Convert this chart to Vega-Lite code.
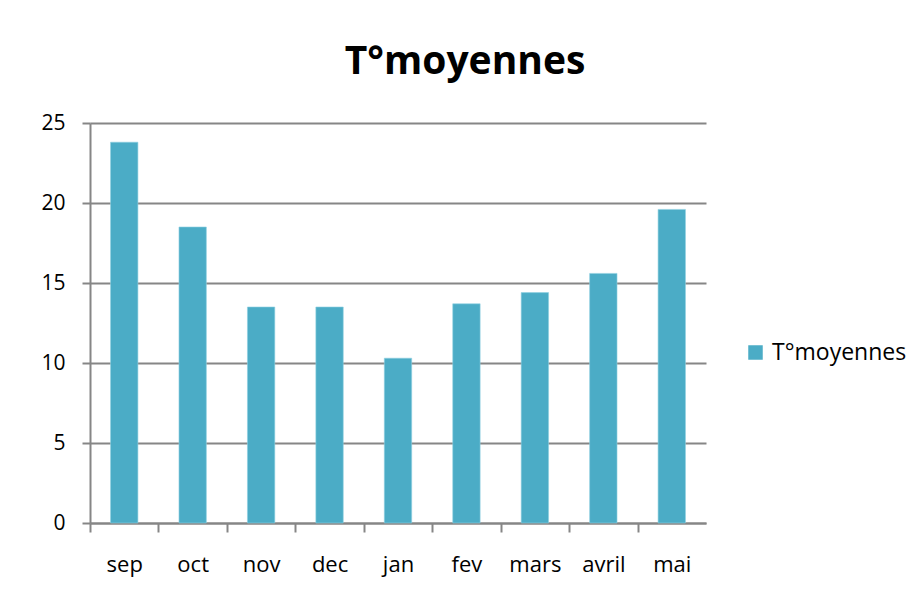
{
  "$schema": "https://vega.github.io/schema/vega-lite/v6.json",
  "autosize": "none",
  "width": 616,
  "height": 400,
  "padding": {"left": 90, "top": 123, "right": 211, "bottom": 82},
  "background": "white",
  "title": {
    "text": "T°moyennes",
    "font": "Open Sans",
    "fontSize": 39,
    "fontWeight": "bold",
    "color": "black",
    "anchor": "middle",
    "frame": "group",
    "dx": 67,
    "offset": 30
  },
  "data": {
    "values": [
      {"mois": "sep", "serie": "T°moyennes", "temp": 23.8},
      {"mois": "oct", "serie": "T°moyennes", "temp": 18.5},
      {"mois": "nov", "serie": "T°moyennes", "temp": 13.5},
      {"mois": "dec", "serie": "T°moyennes", "temp": 13.5},
      {"mois": "jan", "serie": "T°moyennes", "temp": 10.3},
      {"mois": "fev", "serie": "T°moyennes", "temp": 13.7},
      {"mois": "mars", "serie": "T°moyennes", "temp": 14.4},
      {"mois": "avril", "serie": "T°moyennes", "temp": 15.6},
      {"mois": "mai", "serie": "T°moyennes", "temp": 19.6}
    ]
  },
  "mark": {"type": "bar", "stroke": "#8fd0e0", "strokeWidth": 0.6},
  "encoding": {
    "x": {
      "field": "mois",
      "type": "nominal",
      "sort": null,
      "scale": {"paddingInner": 0.6, "paddingOuter": 0.3},
      "axis": {
        "title": null,
        "labelAngle": 0,
        "labelFont": "Open Sans",
        "labelFontSize": 22,
        "labelColor": "black",
        "labelPadding": 22,
        "tickOffset": -34.2,
        "labelOffset": 34.2,
        "tickSize": 9,
        "tickColor": "#868686",
        "tickWidth": 2,
        "domainColor": "#868686",
        "domainWidth": 2,
        "grid": false
      }
    },
    "y": {
      "field": "temp",
      "type": "quantitative",
      "scale": {"domain": [0, 25]},
      "axis": {
        "title": null,
        "values": [0, 5, 10, 15, 20, 25],
        "labelFont": "Open Sans",
        "labelFontSize": 21,
        "labelColor": "black",
        "labelPadding": 17,
        "tickSize": 8,
        "tickColor": "#868686",
        "tickWidth": 2,
        "domainColor": "#868686",
        "domainWidth": 2,
        "gridColor": "#868686",
        "gridWidth": 2
      }
    },
    "color": {
      "field": "serie",
      "type": "nominal",
      "scale": {"range": ["#4BACC6"]},
      "legend": {
        "title": null,
        "orient": "none",
        "legendX": 654,
        "legendY": 218,
        "symbolType": "square",
        "symbolSize": 210,
        "symbolStrokeWidth": 0,
        "labelFont": "Open Sans",
        "labelFontSize": 23,
        "labelColor": "black",
        "labelOffset": 5
      }
    }
  },
  "config": {
    "view": {"stroke": null}
  }
}
